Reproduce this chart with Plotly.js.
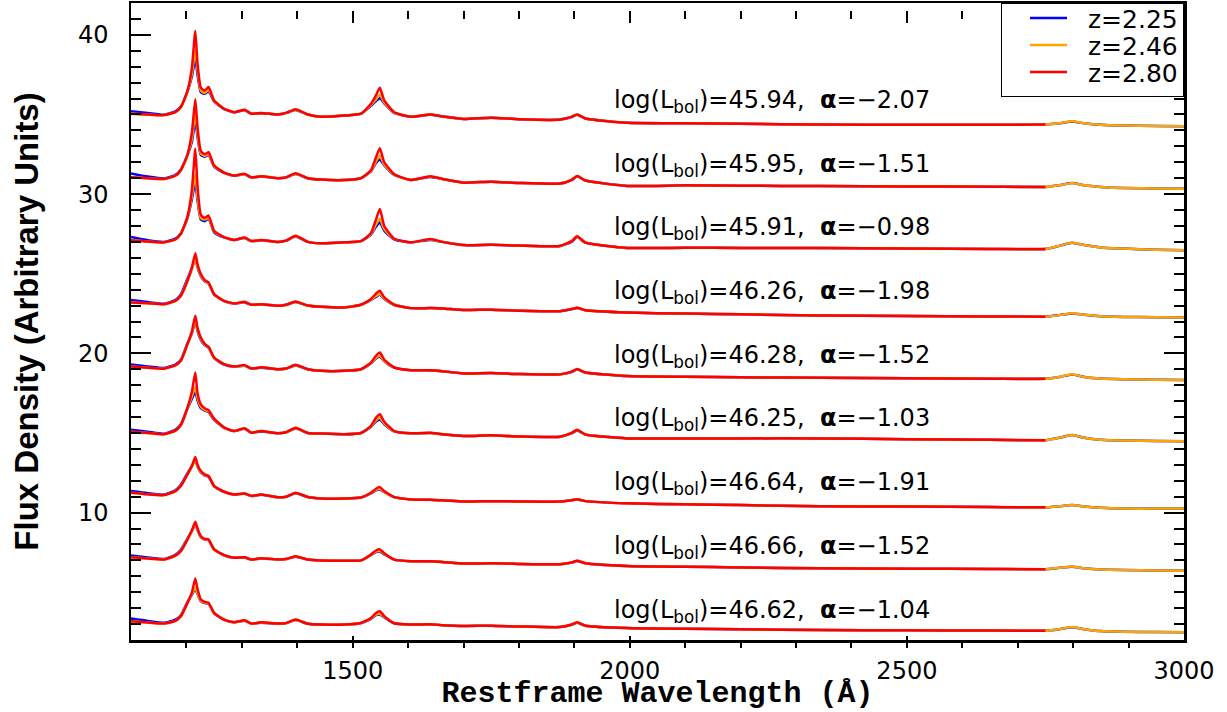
<!DOCTYPE html>
<html>
<head>
<meta charset="utf-8">
<script src="https://cdn.plot.ly/plotly-3.0.1.min.js"></script>
<style>html,body{margin:0;padding:0;background:#fff;}</style>
</head>
<body>
<div id="chart" style="width:1227px;height:712px;"></div>
<script>
// Restframe wavelength grid (Angstrom), shared by all spectra
const wave = [1100,1130,1160,1180,1190,1202,1210,1216,1220,1226,
              1233,1240,1250,1268,1286,1305,1317,1335,1365,1380,
              1397,1419,1443,1485,1515,1533,1542,1549,1557,1575,
              1605,1640,1662,1700,1750,1800,1874,1895,1905,1920,
              1995,2100,2200,2343,2500,2650,2750,
              2775,2798,2820,2850,2890,2950,3000];

// Legend labels
const zLabels = ['z=2.25','z=2.46','z=2.80'];
const zColors = ['#0000ff','#ffa500','#ff0000'];

// Annotation values
const logL  = ['45.94','45.95','45.91','46.26','46.28','46.25','46.64','46.66','46.62'];
const alpha = ['\u22122.07','\u22121.51','\u22120.98','\u22121.98','\u22121.52','\u22121.03','\u22121.91','\u22121.52','\u22121.04'];

// ---- Spectrum 1 ----
const s1_red = [35.05,35.0,34.96,35.15,35.46,36.5,37.97,40.24,38.2,36.68,
 36.5,36.72,35.88,35.36,35.14,35.3,35.05,35.1,35.0,35.1,
 35.33,35.0,34.86,34.93,35.05,35.67,36.2,36.68,35.88,35.14,
 34.86,35.0,34.88,34.72,34.8,34.7,34.68,34.85,35.0,34.75,
 34.48,34.45,34.42,34.37,34.35,34.35,34.37];
const s1_orange = [35.05,35.0,34.96,35.15,35.46,36.45,37.6,39.07,37.8,36.5,
 36.35,36.55,35.85,35.36,35.14,35.28,35.05,35.1,35.0,35.1,
 35.3,35.0,34.86,34.93,35.05,35.6,35.95,36.24,35.75,35.12,
 34.86,35.0,34.88,34.72,34.8,34.7,34.68,34.85,35.0,34.75,
 34.48,34.45,34.42,34.37,34.35,34.35,34.37,34.45,34.57,34.45,34.35,34.3,34.28,34.26];
const s1_blue = [35.2,35.1,34.98,35.2,35.5,36.45,37.4,38.5,37.5,36.4,
 36.3,36.45,35.82,35.34,35.14,35.26,35.05,35.08,35.0,35.1,
 35.28,35.0,34.86,34.93,35.05,35.55,35.85,36.03,35.7,35.1,
 34.86,34.98,34.88,34.72,34.8,34.7,34.68,34.84,34.98,34.75,
 34.48,34.45,34.42,34.37,34.35,34.35,34.37,34.45,34.56,34.45,34.35,34.3,34.28,34.26];

// ---- Spectrum 2 ----
const s2_red = [31.06,31.0,30.95,31.15,31.5,32.5,33.9,35.96,34.2,32.7,
 32.5,32.63,31.79,31.35,31.16,31.27,31.05,31.12,31.0,31.05,
 31.31,31.0,30.91,30.88,31.0,31.5,32.3,32.88,32.0,31.25,
 30.89,31.12,30.95,30.72,30.78,30.7,30.66,30.9,31.14,30.85,
 30.51,30.55,30.52,30.51,30.48,30.46,30.45];
const s2_orange = [31.06,31.0,30.95,31.15,31.5,32.45,33.5,35.14,33.8,32.55,
 32.4,32.5,31.75,31.35,31.16,31.25,31.05,31.12,31.0,31.05,
 31.28,31.0,30.91,30.88,31.0,31.45,32.05,32.42,31.85,31.22,
 30.89,31.1,30.95,30.72,30.78,30.7,30.66,30.9,31.14,30.85,
 30.51,30.55,30.52,30.51,30.48,30.46,30.45,30.55,30.7,30.55,30.45,30.38,30.35,30.33];
const s2_blue = [31.3,31.1,30.98,31.2,31.55,32.45,33.3,34.62,33.6,32.45,
 32.35,32.45,31.72,31.33,31.16,31.24,31.05,31.1,31.0,31.05,
 31.26,31.0,30.91,30.88,31.0,31.42,31.95,32.17,31.8,31.2,
 30.89,31.08,30.95,30.72,30.78,30.7,30.66,30.88,31.12,30.85,
 30.51,30.55,30.52,30.51,30.48,30.46,30.45,30.55,30.69,30.55,30.45,30.38,30.35,30.33];

// ---- Spectrum 3 ----
const s3_red = [27.1,27.02,26.97,27.15,27.5,28.6,30.3,32.84,30.5,28.7,
 28.5,28.65,27.7,27.3,27.12,27.28,27.05,27.12,27.0,27.08,
 27.39,27.0,26.91,26.97,27.05,27.55,28.4,29.07,28.0,27.2,
 26.97,27.18,27.0,26.8,26.82,26.77,26.74,27.05,27.35,26.95,
 26.62,26.63,26.62,26.62,26.58,26.56,26.55];
const s3_orange = [27.1,27.02,26.97,27.15,27.5,28.55,29.9,31.27,29.8,28.5,
 28.4,28.5,27.65,27.3,27.12,27.26,27.05,27.12,27.0,27.08,
 27.36,27.0,26.91,26.97,27.05,27.5,28.1,28.44,27.8,27.18,
 26.97,27.15,27.0,26.8,26.82,26.77,26.74,27.03,27.32,26.95,
 26.62,26.63,26.62,26.62,26.58,26.56,26.55,26.75,26.96,26.8,26.65,26.58,26.5,26.47];
const s3_blue = [27.3,27.1,27.0,27.2,27.55,28.5,29.7,30.74,29.6,28.4,
 28.3,28.45,27.6,27.28,27.12,27.24,27.05,27.1,27.0,27.08,
 27.34,27.0,26.91,26.97,27.05,27.45,27.95,28.23,27.7,27.15,
 26.97,27.12,27.0,26.8,26.82,26.77,26.74,27.0,27.3,26.95,
 26.62,26.63,26.62,26.62,26.58,26.56,26.55,26.75,26.95,26.8,26.65,26.58,26.5,26.47];

// ---- Spectrum 4 ----
const s4_red = [23.2,23.15,23.09,23.3,23.62,24.56,25.4,26.28,25.6,24.98,
 24.6,24.45,23.72,23.3,23.13,23.24,23.05,23.09,22.99,23.05,
 23.26,23.0,22.92,22.88,23.05,23.41,23.75,23.93,23.51,23.05,
 22.84,22.84,22.82,22.72,22.74,22.68,22.65,22.78,22.87,22.7,
 22.56,22.5,22.45,22.37,22.35,22.32,22.3];
const s4_orange = [23.2,23.15,23.09,23.3,23.62,24.6,25.3,26.03,25.45,24.9,
 24.55,24.42,23.7,23.3,23.13,23.22,23.05,23.09,22.99,23.05,
 23.24,23.0,22.92,22.88,23.05,23.38,23.6,23.72,23.45,23.05,
 22.84,22.84,22.82,22.72,22.74,22.68,22.65,22.78,22.86,22.7,
 22.56,22.5,22.45,22.37,22.35,22.32,22.3,22.4,22.52,22.42,22.33,22.29,22.27,22.25];
const s4_blue = [23.35,23.22,23.12,23.35,23.7,24.7,25.35,25.95,25.4,24.85,
 24.52,24.4,23.68,23.28,23.13,23.2,23.05,23.08,22.99,23.05,
 23.22,23.0,22.92,22.88,23.05,23.36,23.55,23.68,23.42,23.05,
 22.84,22.84,22.82,22.72,22.74,22.68,22.65,22.77,22.85,22.7,
 22.56,22.5,22.45,22.37,22.35,22.32,22.3,22.4,22.51,22.42,22.33,22.29,22.27,22.25];

// ---- Spectrum 5 ----
const s5_red = [19.17,19.1,19.04,19.25,19.53,20.58,21.4,22.36,21.6,20.99,
 20.6,20.41,19.74,19.32,19.17,19.26,19.05,19.12,19.0,19.05,
 19.28,19.0,18.9,18.9,19.0,19.42,19.85,20.05,19.6,19.11,
 18.94,18.94,18.88,18.74,18.76,18.7,18.68,18.85,19.01,18.8,
 18.57,18.53,18.5,18.46,18.43,18.41,18.4];
const s5_orange = [19.17,19.1,19.04,19.25,19.55,20.6,21.3,22.15,21.45,20.9,
 20.55,20.38,19.72,19.32,19.17,19.24,19.05,19.12,19.0,19.05,
 19.26,19.0,18.9,18.9,19.0,19.4,19.72,19.84,19.52,19.1,
 18.94,18.94,18.88,18.74,18.76,18.7,18.68,18.84,19.0,18.8,
 18.57,18.53,18.5,18.46,18.43,18.41,18.4,18.52,18.68,18.52,18.42,18.38,18.35,18.33];
const s5_blue = [19.3,19.18,19.08,19.3,19.6,20.65,21.25,22.05,21.4,20.85,
 20.52,20.36,19.7,19.3,19.17,19.22,19.05,19.1,19.0,19.05,
 19.24,19.0,18.9,18.9,19.0,19.38,19.68,19.78,19.5,19.1,
 18.94,18.93,18.88,18.74,18.76,18.7,18.68,18.83,18.98,18.8,
 18.57,18.53,18.5,18.46,18.43,18.41,18.4,18.52,18.67,18.52,18.42,18.38,18.35,18.33];

// ---- Spectrum 6 ----
const s6_red = [15.08,15.0,14.92,15.15,15.5,16.6,17.6,18.79,17.5,16.8,
 16.55,16.43,15.9,15.35,15.12,15.3,15.02,15.12,14.98,15.05,
 15.33,15.0,14.96,14.92,15.0,15.45,15.95,16.18,15.7,15.12,
 14.98,15.02,14.92,14.81,14.85,14.78,14.77,15.0,15.21,14.9,
 14.66,14.66,14.66,14.66,14.6,14.57,14.55];
const s6_orange = [15.08,15.0,14.92,15.15,15.5,16.55,17.3,17.85,17.2,16.65,
 16.45,16.35,15.85,15.33,15.12,15.28,15.02,15.12,14.98,15.05,
 15.3,15.0,14.96,14.92,15.0,15.4,15.8,15.95,15.6,15.1,
 14.98,15.0,14.92,14.81,14.85,14.78,14.77,14.98,15.18,14.9,
 14.66,14.66,14.66,14.66,14.6,14.57,14.55,14.7,14.88,14.7,14.57,14.52,14.5,14.48];
const s6_blue = [15.2,15.08,14.95,15.2,15.55,16.55,17.15,17.6,17.05,16.55,
 16.4,16.3,15.82,15.32,15.12,15.26,15.02,15.1,14.98,15.05,
 15.28,15.0,14.96,14.92,15.0,15.38,15.72,15.85,15.55,15.1,
 14.98,15.0,14.92,14.81,14.85,14.78,14.77,14.97,15.16,14.9,
 14.66,14.66,14.66,14.66,14.6,14.57,14.55,14.7,14.87,14.7,14.57,14.52,14.5,14.48];

// ---- Spectrum 7 ----
const s7_red = [11.25,11.15,11.1,11.35,11.67,12.4,12.95,13.49,13.0,12.61,
 12.4,12.3,11.67,11.31,11.14,11.2,11.05,11.14,10.96,11.0,
 11.25,10.98,10.89,10.89,10.95,11.25,11.5,11.6,11.35,10.97,
 10.83,10.8,10.78,10.7,10.72,10.7,10.69,10.78,10.84,10.72,
 10.58,10.52,10.47,10.4,10.38,10.35,10.33];
const s7_orange = [11.25,11.15,11.1,11.35,11.68,12.42,12.9,13.35,12.92,12.55,
 12.36,12.27,11.66,11.31,11.14,11.19,11.05,11.13,10.96,11.0,
 11.23,10.98,10.89,10.89,10.95,11.22,11.42,11.5,11.3,10.97,
 10.83,10.8,10.78,10.7,10.72,10.7,10.69,10.78,10.84,10.72,
 10.58,10.52,10.47,10.4,10.38,10.35,10.33,10.4,10.47,10.38,10.3,10.25,10.25,10.25];
const s7_blue = [11.35,11.22,11.13,11.4,11.75,12.48,12.92,13.3,12.9,12.52,
 12.34,12.25,11.65,11.3,11.14,11.18,11.05,11.12,10.96,11.0,
 11.22,10.98,10.89,10.89,10.95,11.2,11.4,11.45,11.28,10.97,
 10.83,10.8,10.78,10.7,10.72,10.7,10.69,10.77,10.83,10.72,
 10.58,10.52,10.47,10.4,10.38,10.35,10.33,10.4,10.47,10.38,10.3,10.25,10.25,10.25];

// ---- Spectrum 8 ----
const s8_red = [7.2,7.12,7.06,7.3,7.58,8.31,8.9,9.42,9.0,8.52,
 8.35,8.31,7.69,7.33,7.16,7.2,7.05,7.14,7.06,7.08,
 7.26,7.05,6.99,6.97,7.0,7.37,7.62,7.69,7.45,7.05,
 6.95,6.94,6.9,6.8,6.82,6.78,6.76,6.87,6.98,6.82,
 6.65,6.6,6.56,6.5,6.48,6.46,6.45];
const s8_orange = [7.2,7.12,7.06,7.3,7.6,8.33,8.85,9.3,8.92,8.47,
 8.32,8.28,7.68,7.33,7.16,7.19,7.05,7.13,7.06,7.08,
 7.24,7.05,6.99,6.97,7.0,7.34,7.55,7.6,7.4,7.05,
 6.95,6.94,6.9,6.8,6.82,6.78,6.76,6.87,6.97,6.82,
 6.65,6.6,6.56,6.5,6.48,6.46,6.45,6.53,6.61,6.5,6.42,6.39,6.37,6.35];
const s8_blue = [7.3,7.18,7.09,7.35,7.66,8.38,8.85,9.25,8.9,8.45,
 8.3,8.26,7.67,7.32,7.16,7.18,7.05,7.12,7.06,7.08,
 7.23,7.05,6.99,6.97,7.0,7.32,7.52,7.55,7.38,7.05,
 6.95,6.94,6.9,6.8,6.82,6.78,6.76,6.86,6.96,6.82,
 6.65,6.6,6.56,6.5,6.48,6.46,6.45,6.53,6.6,6.5,6.42,6.39,6.37,6.35];

// ---- Spectrum 9 ----
const s9_red = [3.18,3.1,3.03,3.2,3.49,4.33,5.0,5.86,5.2,4.54,
 4.4,4.33,3.7,3.28,3.11,3.24,3.03,3.11,3.03,3.06,
 3.28,3.02,2.97,2.97,3.07,3.38,3.7,3.81,3.5,3.05,
 2.97,2.99,2.93,2.88,2.9,2.85,2.81,2.97,3.12,2.9,
 2.75,2.7,2.67,2.63,2.61,2.59,2.58];
const s9_orange = [3.18,3.1,3.03,3.2,3.5,4.35,4.9,5.27,4.95,4.45,
 4.35,4.3,3.68,3.28,3.11,3.22,3.03,3.1,3.03,3.06,
 3.26,3.02,2.97,2.97,3.07,3.35,3.6,3.65,3.45,3.05,
 2.97,2.98,2.93,2.88,2.9,2.85,2.81,2.96,3.1,2.9,
 2.75,2.7,2.67,2.63,2.61,2.59,2.58,2.68,2.81,2.68,2.56,2.52,2.5,2.48];
const s9_blue = [3.35,3.2,3.08,3.28,3.56,4.4,4.85,5.2,4.9,4.42,
 4.32,4.28,3.67,3.27,3.11,3.21,3.03,3.09,3.03,3.06,
 3.25,3.02,2.97,2.97,3.07,3.33,3.56,3.6,3.42,3.05,
 2.97,2.98,2.93,2.88,2.9,2.85,2.81,2.95,3.08,2.9,
 2.75,2.7,2.67,2.63,2.61,2.59,2.58,2.68,2.8,2.68,2.56,2.52,2.5,2.48];

const blueSet   = [s1_blue, s2_blue, s3_blue, s4_blue, s5_blue, s6_blue, s7_blue, s8_blue, s9_blue];
const orangeSet = [s1_orange, s2_orange, s3_orange, s4_orange, s5_orange, s6_orange, s7_orange, s8_orange, s9_orange];
const redSet    = [s1_red, s2_red, s3_red, s4_red, s5_red, s6_red, s7_red, s8_red, s9_red];

const traces = [];
[blueSet, orangeSet, redSet].forEach(function (set, k) {
  set.forEach(function (arr, i) {
    traces.push({
      type: 'scatter', mode: 'lines',
      x: wave.slice(0, arr.length), y: arr,
      name: zLabels[k], legendgroup: zLabels[k], showlegend: i === 0,
      line: {color: zColors[k], width: 2.5, shape: 'spline', smoothing: 0.5},
      hoverinfo: 'skip'
    });
  });
});

const annotations = logL.map(function (v, i) {
  return {
    xref: 'x', yref: 'y', x: 1968, y: 35.82 - 4 * i,
    xanchor: 'left', yanchor: 'middle', showarrow: false,
    text: 'log(L<sub>bol</sub>)=' + v + ',  <b>\u03b1</b>=' + alpha[i],
    font: {family: 'DejaVu Sans', size: 24, color: '#000'}
  };
});

const layout = {
  width: 1227, height: 712,
  margin: {l: 131, r: 43, t: 3, b: 72},
  paper_bgcolor: '#fff', plot_bgcolor: '#fff',
  showlegend: true,
  legend: {x: 1, y: 1, xanchor: 'right', yanchor: 'top',
           bgcolor: '#fff', bordercolor: '#000', borderwidth: 1,
           font: {family: 'DejaVu Sans', size: 25, color: '#000'},
           itemwidth: 76, tracegroupgap: 0},
  xaxis: {
    range: [1100, 3000], tick0: 0, dtick: 500, ticklen: 12,
    showline: true, linecolor: '#000', linewidth: 2.5, mirror: 'ticks',
    ticks: 'inside', tickcolor: '#000', tickwidth: 2,
    showgrid: false, zeroline: false,
    tickfont: {family: 'DejaVu Sans', size: 24, color: '#000'},
    minor: {dtick: 100, ticklen: 8, tickwidth: 2, tickcolor: '#000', ticks: 'inside'},
    title: {text: 'Restframe Wavelength (\u00c5)', standoff: 4,
            font: {family: 'Liberation Mono', size: 30, weight: 'bold', color: '#000'}}
  },
  yaxis: {
    range: [2, 42], tick0: 0, dtick: 10, ticklen: 20,
    showline: true, linecolor: '#000', linewidth: 2.5, mirror: 'ticks',
    ticks: 'inside', tickcolor: '#000', tickwidth: 2,
    showgrid: false, zeroline: false,
    tickfont: {family: 'DejaVu Sans', size: 24, color: '#000'},
    ticksuffix: '\u00a0\u00a0',
    minor: {dtick: 1, ticklen: 10, tickwidth: 2, tickcolor: '#000', ticks: 'inside'},
    title: {text: 'Flux Density (Arbitrary Units)', standoff: 30,
            font: {family: 'Liberation Sans', size: 33, weight: 'bold', color: '#000'}}
  },
  annotations: annotations
};

Plotly.newPlot('chart', traces, layout, {displayModeBar: false, staticPlot: true}).then(function (gd) {
  // x tick labels sit a little lower, as in the reference
  gd.querySelectorAll('.xaxislayer-above .xtick').forEach(function (g) {
    const t = g.getAttribute('transform') || '';
    g.setAttribute('transform', (t + ' translate(0,8)').trim());
  });
  // compact legend key like the reference
  const items = gd.querySelectorAll('.legend .traces');
  items.forEach(function (g, i) {
    const m = /translate\(\s*([-\d.]+)[ ,]+([-\d.]+)\s*\)/.exec(g.getAttribute('transform') || '');
    const x = m ? parseFloat(m[1]) : 0;
    g.setAttribute('transform', 'translate(' + x + ',' + (15 + 27 * i) + ')');
  });
  gd.querySelectorAll('.legend .legendlines path').forEach(function (p) {
    p.setAttribute('d', 'M28,0h37');
  });
  const bg = gd.querySelector('.legend rect.bg');
  if (bg) bg.setAttribute('height', 93);
});
</script>
</body>
</html>
